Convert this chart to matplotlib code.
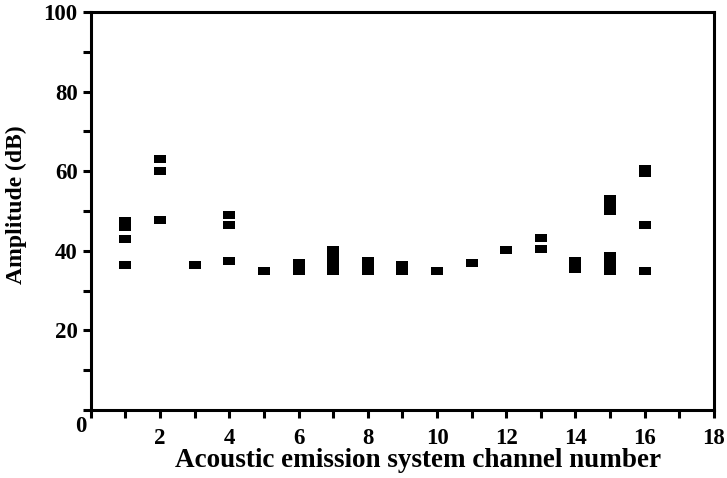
import numpy as np
import matplotlib.pyplot as plt
import matplotlib.transforms as mtransforms
from matplotlib.ticker import MultipleLocator

# amplitude hits read per channel (dB)
channels = [1, 2, 3, 4, 5, 6, 7, 8, 9, 10, 11, 12, 13, 14, 15, 16]
amplitudes = [
    [47.5, 46.0, 43.0, 36.5],
    [63.0, 60.0, 47.7],
    [36.5],
    [49.0, 46.5, 37.5],
    [35.0],
    [37.0, 35.0],
    [40.2, 38.5, 37.0, 35.0],
    [37.5, 36.0, 35.0],
    [36.5, 35.0],
    [35.0],
    [37.0],
    [40.2],
    [43.2, 40.5],
    [37.5, 35.5],
    [53.0, 51.5, 50.0, 38.7, 37.0, 35.0],
    [60.5, 59.5, 46.5, 35.0],
]
xticks = [0, 2, 4, 6, 8, 10, 12, 14, 16, 18]
yticks = [20, 40, 60, 80, 100]

plt.rcParams['font.family'] = ['Liberation Serif', 'DejaVu Serif']
plt.rcParams['font.weight'] = 'bold'

fig = plt.figure(figsize=(7.27, 4.78), dpi=100)
ax = fig.add_axes([0.125, 0.142, 0.857, 0.833])

# slightly flat rectangle, like the original markers
rect = [(-1, -0.7), (1, -0.7), (1, 0.7), (-1, 0.7), (-1, -0.7)]
xs = np.concatenate([[c] * len(a) for c, a in zip(channels, amplitudes)])
ys = np.concatenate(amplitudes)
ax.plot(xs, ys, linestyle='none', marker=rect, color='black',
        markersize=8, markeredgewidth=0)

ax.set_xlim(0, 18)
ax.set_ylim(0, 100)
ax.set_xticks(xticks)
ax.set_xticklabels([str(t) for t in xticks])
ax.xaxis.set_minor_locator(MultipleLocator(1))
ax.set_yticks(yticks)
ax.set_yticklabels([str(t) for t in yticks])
ax.yaxis.set_minor_locator(MultipleLocator(10))

for s in ax.spines.values():
    s.set_linewidth(2.2)
ax.tick_params(which='both', direction='out', width=2.2, length=6, labelsize=16.5)
ax.tick_params(axis='x', pad=7)

# the corner "0" sits left of and above the other x labels
lbl0 = ax.get_xticklabels()[0]
lbl0.set_transform(lbl0.get_transform() + mtransforms.ScaledTranslation(-0.1, 0.12, fig.dpi_scale_trans))

ax.set_xlabel('Acoustic emission system channel number', fontsize=19.5, fontweight='bold')
ax.xaxis.set_label_coords(0.525, -0.095)
ax.set_ylabel('Amplitude (dB)', fontsize=17, fontweight='bold')
ax.yaxis.set_label_coords(-0.103, 0.515)

fig.savefig('out.png', dpi=100)
